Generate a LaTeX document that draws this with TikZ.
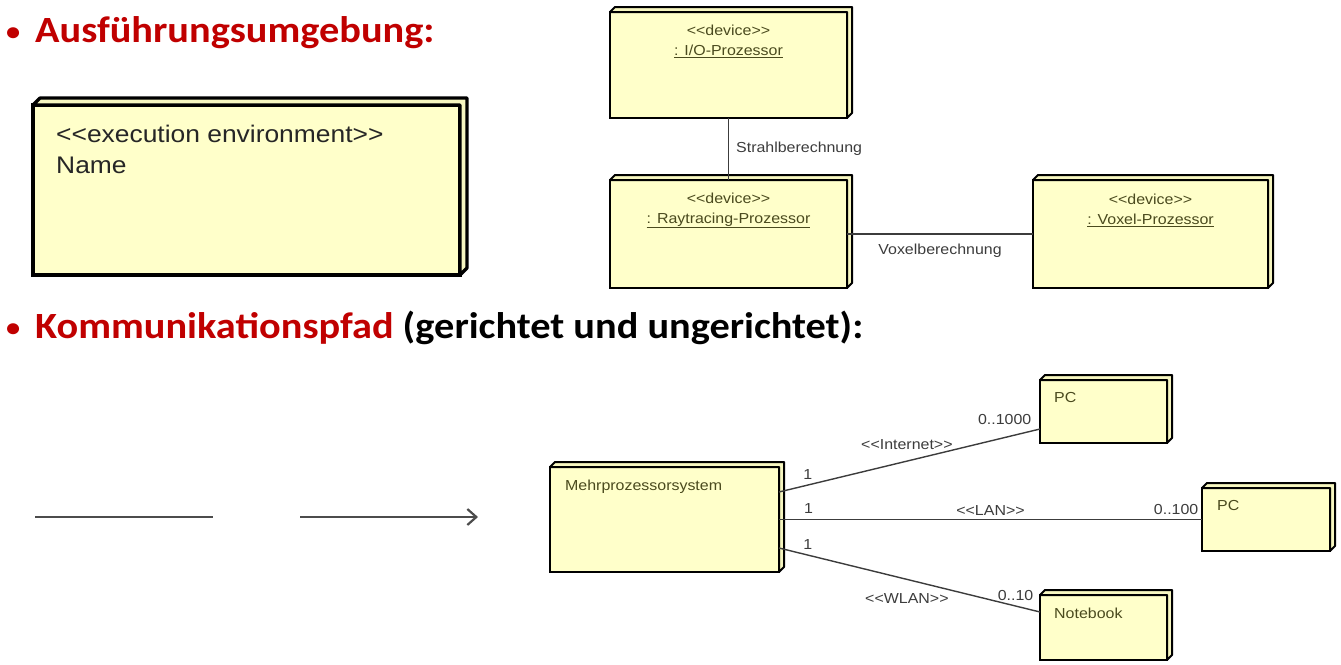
\documentclass[tikz,border=0pt]{standalone}
\usepackage{fontspec}
\setmainfont{Liberation Sans}[FakeStretch=1.1]
\newfontfamily\calibri{Carlito}[FakeStretch=1.09]
\usetikzlibrary{positioning,arrows.meta}
\definecolor{rot}{HTML}{C00000}
\definecolor{gelb}{HTML}{FFFFCA}
\definecolor{seite}{HTML}{F6F6C0}
\definecolor{oliv}{HTML}{4A4A1E}
\definecolor{linie}{HTML}{3C3C3C}
\newcommand{\punkt}{\makebox[29pt][l]{\raisebox{2pt}{\fontsize{26}{26}\selectfont•}}}

\begin{document}
\begin{tikzpicture}[x=1pt,y=1pt]
    \tikzstyle{every node}+=[inner sep=0pt]
    \tikzstyle{knoten}=[draw=black, line width=2pt, fill=gelb, outer sep=0pt]
    \tikzstyle{klein}=[font=\fontsize{14.5}{20}\selectfont, text=oliv, align=center]
    \tikzstyle{beschr}=[font=\fontsize{14.5}{18}\selectfont, text=linie]
    \tikzstyle{verb}=[draw=linie, line width=1.4pt]
    \tikzstyle{strich}=[draw=black!70, line width=2.2pt]
    \tikzstyle{titel}=[font=\calibri\bfseries\fontsize{37}{44}\selectfont, anchor=base west]
    \useasboundingbox (0,0) rectangle (1341,-664);
    \node[titel, text=rot] (ueb1) at (6,-42) {\punkt Ausführungsumgebung:};
    \node[titel] (ueb2) at (6,-338) {\textcolor{rot}{\punkt Kommunikationspfad} (gerichtet und ungerichtet):};
    \node[knoten, line width=3.2pt, minimum width=427pt, minimum height=170pt] (ausf) at (246.5,-190) {};
    \node[knoten, minimum width=237pt, minimum height=106pt] (io) at (728.5,-65) {};
    \node[knoten, minimum width=237pt, minimum height=108pt] (ray) at (728.5,-234) {};
    \node[knoten, minimum width=235pt, minimum height=108pt] (voxel) at (1150.5,-234) {};
    \node[knoten, minimum width=229pt, minimum height=105pt] (mehr) at (664.5,-519.5) {};
    \node[knoten, minimum width=127pt, minimum height=63pt] (pc1) at (1103.5,-411.5) {};
    \node[knoten, minimum width=128pt, minimum height=63pt] (pc2) at (1266,-519.5) {};
    \node[knoten, minimum width=127pt, minimum height=65pt] (note) at (1103.5,-627.5) {};
    \foreach \n/\t/\w in {ausf/7/3.2, io/5/2, ray/5/2, voxel/5/2, mehr/5/2, pc1/5/2, pc2/5/2, note/5/2}
        \filldraw[fill=seite, draw=black, line width=\w pt, line join=round] (\n.north west) -- ++(\t,\t) -- ([shift={(\t,\t)}]\n.north east) -- ([shift={(\t,\t)}]\n.south east) -- (\n.south east) -- (\n.north east) -- cycle;
    \node[anchor=north west, align=left, font=\fontsize{24}{31}\selectfont, text=black!85] (ausft) at ([shift={(23,-20)}]ausf.north west) {<{}<execution environment>{}>\\Name};
    \node[klein, below=12.5pt of io.north] (iot) {<{}<device>{}>\\\underline{: I/O-Prozessor}};
    \node[klein, below=12.5pt of ray.north] (rayt) {<{}<device>{}>\\\underline{: Raytracing-Prozessor}};
    \node[klein, below=14pt of voxel.north] (voxelt) {<{}<device>{}>\\\underline{: Voxel-Prozessor}};
    \node[klein, anchor=north west] (mehrt) at ([shift={(15,-13)}]mehr.north west) {Mehrprozessorsystem};
    \node[klein, anchor=north west] (pc1t) at ([shift={(14,-12.5)}]pc1.north west) {PC};
    \node[klein, anchor=north west] (pc2t) at ([shift={(15,-12.5)}]pc2.north west) {PC};
    \node[klein, anchor=north west] (notet) at ([shift={(14,-12.5)}]note.north west) {Notebook};
    \draw[verb] (io) -- (ray) node[beschr, midway, right=7pt] {Strahlberechnung};
    \draw[verb] (ray) -- (voxel) node[beschr, midway, below=9pt] {Voxelberechnung};
    \draw[verb] ([yshift=27.5pt]mehr.east) -- ([yshift=-17.5pt]pc1.west)
        node[beschr, pos=0.11, above=5pt] {1}
        node[beschr, pos=0.49, above=11pt] {<{}<Internet>{}>}
        node[beschr, pos=1, anchor=south east, xshift=-8pt, yshift=4pt] {0..1000};
    \draw[verb] (mehr.east) -- (pc2.west)
        node[beschr, pos=0.07, above=5pt] {1}
        node[beschr, midway, above=3pt] {<{}<LAN>{}>}
        node[beschr, pos=1, anchor=south east, xshift=-3pt, yshift=4pt] {0..100};
    \draw[verb] ([yshift=-28.5pt]mehr.east) -- ([yshift=15.5pt]note.west)
        node[beschr, pos=0.11, above=5pt] {1}
        node[beschr, pos=0.49, below=13pt] {<{}<WLAN>{}>}
        node[beschr, pos=1, anchor=south east, xshift=-6pt, yshift=11pt] {0..10};
    \coordinate (ua) at (35,-517);
    \coordinate (ub) at (213,-517);
    \coordinate (ga) at (300,-517);
    \coordinate (gb) at (478,-517);
    \draw[strich] (ua) -- (ub);
    \draw[strich, -{Straight Barb[length=9pt,width=16pt]}] (ga) -- (gb);
\end{tikzpicture}
\end{document}
